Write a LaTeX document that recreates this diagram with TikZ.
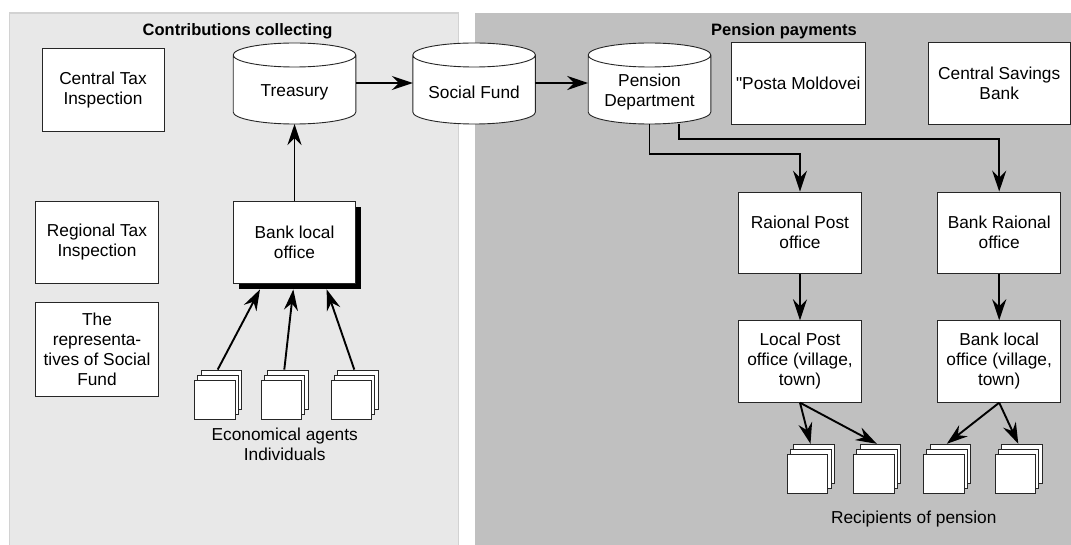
\documentclass[tikz,border=0pt]{standalone}
\usepackage{fontspec}
\setmainfont{Liberation Sans}[Ligatures=TeXOff]
\usetikzlibrary{arrows.meta, positioning, shadows, backgrounds}
\definecolor{leftbg}{RGB}{232,232,232}
\definecolor{leftline}{RGB}{210,210,210}
\definecolor{rightbg}{RGB}{192,192,192}
\tikzstyle{block} = [draw=black!85, fill=white, rectangle, line width=0.9pt, minimum width=122.6pt, minimum height=81.5pt, inner sep=2pt, align=center]
\tikzstyle{cyl} = [rectangle, minimum width=122.6pt, minimum height=64pt, inner sep=2pt, outer sep=0pt, align=center]
\tikzstyle{cylline} = [draw=black!85, fill=white, line width=0.9pt]
\tikzstyle{doc} = [draw=black!85, fill=white, line width=0.8pt, minimum width=40.5pt, minimum height=39pt, inner sep=0pt, double copy shadow={shadow xshift=3.3pt, shadow yshift=5pt, draw=black!85, fill=white, line width=0.8pt}]
\tikzstyle{title} = [font=\bfseries\fontsize{16.5}{19}\selectfont]
\tikzstyle{conn} = [->, line width=1.9pt]

\begin{document}
\begin{tikzpicture}[auto, node distance=1cm, x=1pt, y=-1pt, >={Stealth[length=21pt,width=14pt,inset=7pt]}, font=\fontsize{17.3}{20}\selectfont]
    \useasboundingbox (0,0) rectangle (1071,545);
    \begin{scope}[on background layer]
        \filldraw [fill=leftbg, draw=leftline, line width=1.5pt] (9.5,13) rectangle (458.5,560);
        \fill [rightbg] (475,13) rectangle (1080,560);
    \end{scope}
    \node [title] (coltitle) at (237.6,31) {Contributions collecting};
    \node [title] (paytitle) at (784,31) {Pension payments};
    % contributions
    \node [block, minimum width=122pt, minimum height=83pt] (centraltax) at (103,89.7) {Central Tax\\Inspection};
    \node [block] (regtax) at (97,242.5) {Regional Tax\\Inspection};
    \node [block, below of=regtax, node distance=107pt, minimum height=94.4pt] (reprs) {The\\representa-\\tives of Social\\Fund};
    \node [cyl] (treasury) at (294.5,92) {Treasury};
    \node [cyl, right of=treasury, node distance=179.6pt] (social) {Social Fund};
    \node [cyl, right of=social, node distance=175.4pt] (pension) {Pension\\Department};
    \node [block, below of=treasury, node distance=150.5pt, drop shadow={shadow xshift=5.5pt, shadow yshift=-5.5pt, fill=black, opacity=1}] (banklocal) {Bank local\\office};
    \node [doc] (agent1) at (214.7,399.5) {};
    \node [doc, right of=agent1, node distance=66.6pt] (agent2) {};
    \node [doc, right of=agent2, node distance=70pt] (agent3) {};
    \node [align=center] (agents) at (284.7,444.5) {Economical agents\\Individuals};
    % payments
    \node [block, minimum width=134.7pt] (posta) at (798.3,83.3) {"Posta Moldovei};
    \node [block, minimum width=141.7pt] (savings) at (999.2,83.3) {Central Savings\\Bank};
    \node [block] (raionalpost) at (800,232.8) {Raional Post\\office};
    \node [block, right of=raionalpost, node distance=199.2pt] (raionalbank) {Bank Raional\\office};
    \node [block, below of=raionalpost, node distance=128.7pt] (localpost) {Local Post\\office (village,\\town)};
    \node [block, below of=raionalbank, node distance=128.7pt] (localbank) {Bank local\\office (village,\\town)};
    \node [doc] (recip1) at (807.5,473.7) {};
    \node [doc, right of=recip1, node distance=66.3pt] (recip2) {};
    \node [doc, right of=recip2, node distance=70pt] (recip3) {};
    \node [doc, right of=recip3, node distance=71.5pt] (recip4) {};
    \node (recips) at (913.8,519) {Recipients of pension};
    \begin{scope}[on background layer]
        \foreach \c in {treasury, social, pension}
            \draw [cylline] ([yshift=5pt]\c.north west) -- ([yshift=12pt]\c.south west)
                arc[start angle=180, end angle=360, x radius=61.3pt, y radius=12pt]
                -- ([yshift=5pt]\c.north east)
                arc[start angle=0, end angle=180, x radius=61.3pt, y radius=12pt] -- cycle
                ([yshift=5pt]\c.north west) arc[start angle=180, end angle=360, x radius=61.3pt, y radius=12pt];
    \end{scope}
    % connectors
    \draw [conn] ([yshift=9pt]treasury.east) -- ([yshift=9pt]social.west);
    \draw [conn] ([yshift=9pt]social.east) -- ([yshift=9pt]pension.west);
    \draw [conn] (banklocal) -- (treasury);
    \foreach \i/\dx in {1/-34.5pt, 2/-1.2pt, 3/32.2pt}
        \draw [conn] ([shift={(3pt,10pt)}]agent\i.north) -- ([shift={(\dx,-5.7pt)}]banklocal.south);
    \draw [conn] (pension.south) -- ++(0,30.3) -| (raionalpost);
    \draw [conn] ([xshift=29.5pt]pension.south) -- ++(0,15.3) -| (raionalbank);
    \draw [conn] (raionalpost) -- (localpost);
    \draw [conn] (raionalbank) -- (localbank);
    \draw [conn] (localpost.south) -- ([shift={(3pt,10pt)}]recip1.north);
    \draw [conn] (localpost.south) -- ([shift={(3pt,10pt)}]recip2.north);
    \draw [conn] (localbank.south) -- ([shift={(3pt,10pt)}]recip3.north);
    \draw [conn] (localbank.south) -- ([shift={(3pt,10pt)}]recip4.north);
\end{tikzpicture}
\end{document}
